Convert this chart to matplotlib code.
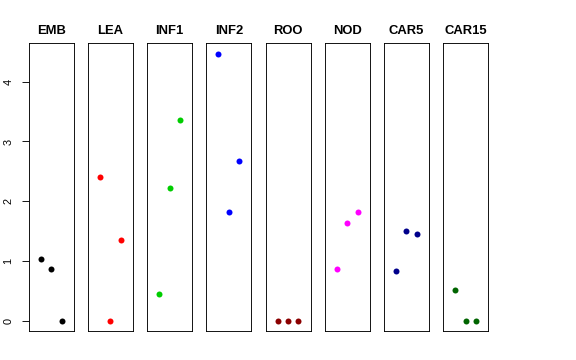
import matplotlib
matplotlib.use("Agg")
import matplotlib.pyplot as plt

plt.rcParams['font.family'] = ['Liberation Sans', 'DejaVu Sans']

groups = ["EMB", "LEA", "INF1", "INF2", "ROO", "NOD", "CAR5", "CAR15"]
colors = ["#000000", "#FF0000", "#00CD00", "#0000FF", "#8B0000", "#FF00FF", "#00008B", "#006400"]
values = {
    "EMB":   [1.04, 0.86, 0.0],
    "LEA":   [2.40, 0.0, 1.355],
    "INF1":  [0.445, 2.22, 3.36],
    "INF2":  [4.47, 1.82, 2.68],
    "ROO":   [0.0, 0.0, 0.0],
    "NOD":   [0.86, 1.63, 1.82],
    "CAR5":  [0.83, 1.495, 1.445],
    "CAR15": [0.507, 0.0, 0.0],
}
reps = [1, 2, 3]
yticks = [0, 1, 2, 3, 4]

W, H = 576, 360
fig = plt.figure(figsize=(W / 72, H / 72), dpi=72)

ymin, ymax = 0.0, 4.47
yext = 0.04 * (ymax - ymin)
left0 = 28.7
step = 59.2
pw = 45.0
top, bottom = 43.0, 331.3

for i, g in enumerate(groups):
    l = left0 + i * step
    ax = fig.add_axes([l / W, 1 - bottom / H, pw / W, (bottom - top) / H])
    ax.scatter(reps, values[g], s=36, color=colors[i], zorder=3, linewidths=0)
    ax.set_xlim(0 - 0.16, 4 + 0.16)
    ax.set_ylim(ymin - yext, ymax + yext)
    ax.set_xticks([])
    for sp in ax.spines.values():
        sp.set_linewidth(0.9)
        sp.set_color("black")
    ax.set_title(g, fontsize=13, fontweight="bold", pad=9)
    if i == 0:
        ax.set_yticks(yticks)
        ax.set_yticklabels([str(t) for t in yticks], rotation=90, va="center", fontsize=11)
        ax.tick_params(axis="y", length=7.5, width=0.9, pad=8)
    else:
        ax.set_yticks([])

fig.savefig("out.png", dpi=72)
